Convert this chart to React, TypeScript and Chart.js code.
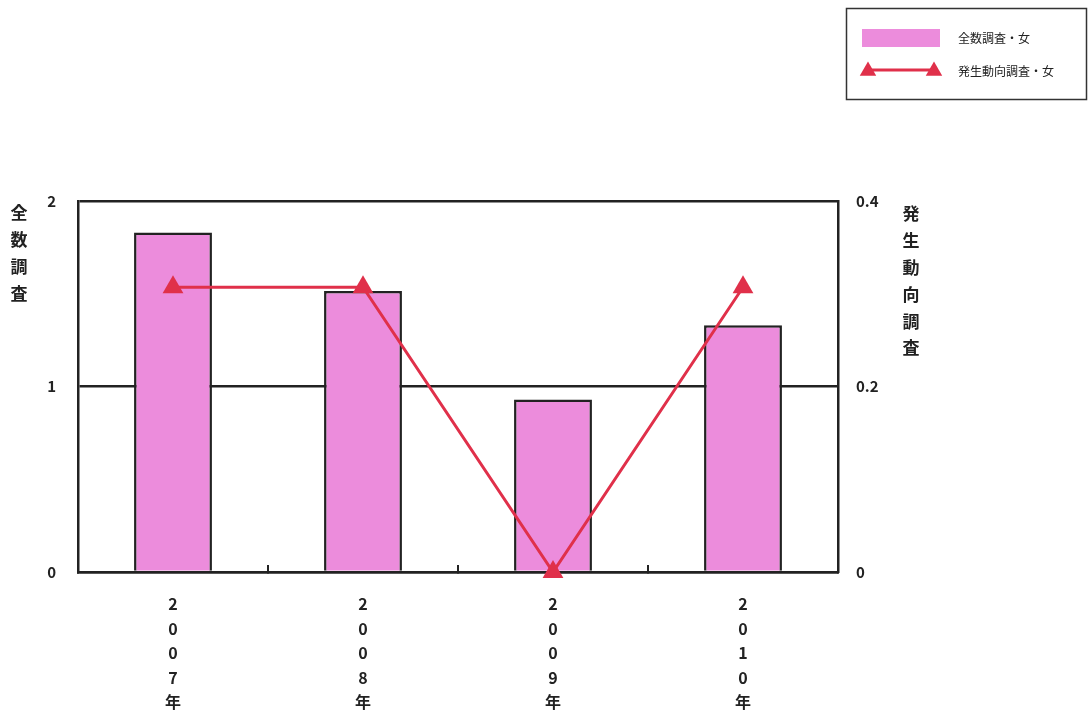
import React, { useEffect, useRef } from 'react';
import { Chart, registerables } from 'chart.js';

Chart.register(...registerables);

const years = ['2007年', '2008年', '2009年', '2010年'];
const barValues = [1.83, 1.515, 0.93, 1.33];
const lineValues = [0.307, 0.307, 0, 0.307];
const barLabel = '全数調査・女';
const lineLabel = '発生動向調査・女';
const leftTitle = '全数調査';
const rightTitle = '発生動向調査';

const FONT = '"Noto Sans CJK JP", "Noto Sans", sans-serif';
const INK = '#222222';
const PINK = '#EC8CDC';
const RED = '#E0304A';

function triangle(ctx: CanvasRenderingContext2D, x: number, y: number, r: number) {
  const s = Math.sin(Math.PI / 3) * r;
  ctx.beginPath();
  ctx.moveTo(x, y - r);
  ctx.lineTo(x + s, y + r / 2);
  ctx.lineTo(x - s, y + r / 2);
  ctx.closePath();
  ctx.fill();
}

const overlay = {
  id: 'overlay',
  afterDraw(chart: any) {
    const ctx: CanvasRenderingContext2D = chart.ctx;
    const area = chart.chartArea;
    ctx.save();
    ctx.fillStyle = INK;
    ctx.textAlign = 'center';
    ctx.textBaseline = 'middle';
    ctx.font = `bold 17px ${FONT}`;
    leftTitle.split('').forEach((c, i) => ctx.fillText(c, area.left - 59, area.top + 12 + i * 26.7));
    rightTitle.split('').forEach((c, i) => ctx.fillText(c, area.right + 73, area.top + 13 + i * 26.8));

    // legend
    ctx.strokeStyle = '#333';
    ctx.lineWidth = 1.5;
    ctx.strokeRect(846.5, 8.5, 240, 91);
    ctx.fillStyle = PINK;
    ctx.fillRect(862, 29, 78, 18);
    ctx.strokeStyle = RED;
    ctx.lineWidth = 3;
    ctx.beginPath();
    ctx.moveTo(868, 70);
    ctx.lineTo(934, 70);
    ctx.stroke();
    ctx.fillStyle = RED;
    triangle(ctx, 868, 71, 9.5);
    triangle(ctx, 934, 71, 9.5);
    ctx.fillStyle = INK;
    ctx.textAlign = 'left';
    ctx.font = `12px ${FONT}`;
    ctx.fillText(chart.data.datasets[0].label, 958, 38);
    ctx.fillText(chart.data.datasets[1].label, 958, 71);
    ctx.restore();
  },
};

export default function App() {
  const ref = useRef<HTMLCanvasElement | null>(null);
  useEffect(() => {
    if (!ref.current) return;
    const chart = new Chart(ref.current, {
      type: 'bar',
      data: {
        labels: years.map((y) => y.split('')),
        datasets: [
          {
            type: 'bar',
            label: barLabel,
            data: barValues,
            backgroundColor: PINK,
            borderColor: INK,
            borderWidth: 2.5,
            barPercentage: 0.41,
            categoryPercentage: 1,
            yAxisID: 'y',
            order: 2,
          },
          {
            type: 'line',
            label: lineLabel,
            data: lineValues,
            borderColor: RED,
            backgroundColor: RED,
            borderWidth: 3,
            pointStyle: 'triangle',
            pointRadius: 12,
            pointBorderWidth: 0,
            pointBackgroundColor: RED,
            yAxisID: 'y1',
            order: 1,
            clip: false,
          } as any,
        ],
      },
      options: {
        animation: false,
        responsive: false,
        devicePixelRatio: 1,
        layout: { padding: { top: 201, left: 0, right: 0, bottom: 0 } },
        plugins: {
          legend: { display: false },
          tooltip: { enabled: false },
        },
        scales: {
          x: {
            grid: {
              offset: true,
              drawOnChartArea: false,
              drawTicks: true,
              tickLength: -7,
              color: INK,
              lineWidth: 2,
            },
            border: { display: true, color: INK, width: 2.5 },
            ticks: {
              color: INK,
              padding: 27,
              maxRotation: 0,
              autoSkip: false,
              font: { family: FONT, size: 16, weight: 'bold', lineHeight: '24.5px' } as any,
            },
            afterFit: (s: any) => {
              s.height = 143;
            },
          },
          y: {
            position: 'left',
            min: 0,
            max: 2,
            ticks: {
              stepSize: 1,
              color: INK,
              padding: 22,
              font: { family: FONT, size: 15, weight: 'bold' },
            },
            grid: { color: INK, lineWidth: 2.5, drawTicks: false },
            border: { display: true, color: INK, width: 2.5 },
            afterFit: (s: any) => {
              s.width = 78;
            },
          },
          y1: {
            position: 'right',
            min: 0,
            max: 0.4,
            ticks: {
              stepSize: 0.2,
              color: INK,
              padding: 18,
              font: { family: FONT, size: 15, weight: 'bold' },
              callback: (v: any) => (Number(v) === 0 ? '0' : Number(v).toFixed(1)),
            },
            grid: { drawOnChartArea: false, drawTicks: false },
            border: { display: true, color: INK, width: 2.5 },
            afterFit: (s: any) => {
              s.width = 250;
            },
          },
        },
      },
      plugins: [overlay],
    });
    return () => chart.destroy();
  }, []);
  return (
    <div style={{ position: 'absolute', left: 0, top: 0, width: 1088, height: 715, background: '#fff' }}>
      <canvas ref={ref} width={1088} height={715} />
    </div>
  );
}
